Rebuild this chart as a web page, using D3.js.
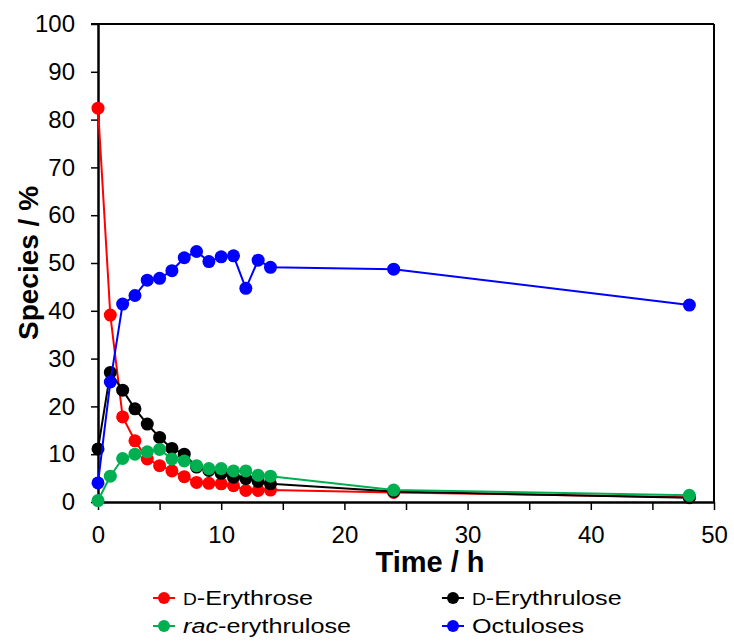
<!DOCTYPE html>
<html>
<head>
<meta charset="utf-8">
<script src="https://cdn.jsdelivr.net/npm/d3@7"></script>
<style>
  body { margin: 0; background: #fff; }
  svg { font-family: Arial, "Liberation Sans", sans-serif; }
</style>
</head>
<body>
<div id="chart"></div>
<script>
// data
var times = [0, 1, 2, 3, 4, 5, 6, 7, 8, 9, 10, 11, 12, 13, 14, 24, 48];
var erythrose   = [82.4, 39.1, 17.8, 12.8, 9.0, 7.6, 6.5, 5.3, 4.1, 3.9, 3.8, 3.4, 2.4, 2.4, 2.5, 2.0, 1.0];
var erythrulose = [11.1, 27.1, 23.4, 19.5, 16.3, 13.5, 11.2, 10.0, 7.3, 6.6, 6.0, 5.2, 4.9, 4.3, 3.8, 2.2, 0.9];
var racErythrulose = [0.3, 5.4, 9.1, 10.0, 10.5, 11.0, 9.0, 8.6, 7.6, 7.0, 7.0, 6.5, 6.5, 5.6, 5.4, 2.5, 1.4];
var octuloses   = [4.0, 25.1, 41.4, 43.2, 46.4, 46.8, 48.4, 51.1, 52.4, 50.3, 51.3, 51.5, 44.7, 50.6, 49.1, 48.7, 41.2];
var xTicks = [0, 5, 10, 15, 20, 25, 30, 35, 40, 45, 50];
var yTicks = [0, 10, 20, 30, 40, 50, 60, 70, 80, 90, 100];

var series = [
  {name: "erythrose", values: erythrose, color: "#ff0000"},
  {name: "erythrulose", values: erythrulose, color: "#000000"},
  {name: "octuloses", values: octuloses, color: "#0000ff"},
  {name: "rac", values: racErythrulose, color: "#00b050"}
];

var svgWidth = 734, svgHeight = 641;
var margin = {top: 24, right: 20, bottom: 139, left: 98};
var width = svgWidth - margin.left - margin.right;
var height = svgHeight - margin.top - margin.bottom;

var svg = d3.select("#chart").append("svg")
  .attr("width", svgWidth)
  .attr("height", svgHeight);

var chartGroup = svg.append("g")
  .attr("transform", `translate(${margin.left}, ${margin.top})`);

var x = d3.scaleLinear().domain([0, 50]).range([0, width]);
var y = d3.scaleLinear().domain([0, 100]).range([height, 0]);

// frame top + right
chartGroup.append("line")
  .attr("x1", -7).attr("x2", width).attr("y1", 0).attr("y2", 0)
  .attr("stroke", "#000").attr("stroke-width", 2);
chartGroup.append("line")
  .attr("x1", width).attr("x2", width).attr("y1", 0).attr("y2", height)
  .attr("stroke", "#000").attr("stroke-width", 2);

var xAxis = chartGroup.append("g")
  .attr("transform", `translate(0, ${height})`)
  .call(d3.axisBottom(x).tickValues(xTicks).tickSize(8).tickSizeOuter(0)
    .tickFormat(d => d % 10 === 0 ? d : ""));

var yAxis = chartGroup.append("g")
  .call(d3.axisLeft(y).tickValues(yTicks).tickSize(7).tickSizeOuter(0));

[xAxis, yAxis].forEach(function(ax) {
  ax.select(".domain").attr("stroke-width", 2.5);
  ax.selectAll(".tick line").attr("stroke-width", 1.5);
  ax.selectAll(".tick text").attr("font-size", 24).attr("fill", "#000")
    .attr("font-family", "Arial, 'Liberation Sans', sans-serif");
});
xAxis.selectAll(".tick text").attr("dy", "0.95em").attr("y", 18);
yAxis.selectAll(".tick text").attr("x", -23);

var line = d3.line()
  .x((d, i) => x(times[i]))
  .y(d => y(d));

series.forEach(function(s) {
  var g = chartGroup.append("g");
  g.append("path")
    .attr("d", line(s.values))
    .attr("fill", "none")
    .attr("stroke", s.color)
    .attr("stroke-width", 2);
  g.selectAll("circle")
    .data(s.values)
    .enter()
    .append("circle")
    .attr("cx", (d, i) => x(times[i]))
    .attr("cy", d => y(d))
    .attr("r", 6.5)
    .attr("fill", s.color);
});

// axis titles
svg.append("text")
  .attr("x", 430).attr("y", 572)
  .attr("text-anchor", "middle")
  .attr("font-size", 29).attr("font-weight", "bold")
  .text("Time / h");

svg.append("text")
  .attr("transform", "translate(38, 263) rotate(-90)")
  .attr("text-anchor", "middle")
  .attr("font-size", 28).attr("font-weight", "bold")
  .text("Species / %");

// legend
var legendItems = [
  {color: "#ff0000", x: 164, y: 598, parts: [["D", "small"], ["-Erythrose", ""]]},
  {color: "#000000", x: 453, y: 598, parts: [["D", "small"], ["-Erythrulose", ""]]},
  {color: "#00b050", x: 164, y: 626, parts: [["rac", "italic"], ["-erythrulose", ""]]},
  {color: "#0000ff", x: 453, y: 626, parts: [["Octuloses", ""]]}
];

legendItems.forEach(function(item) {
  var g = svg.append("g").attr("transform", `translate(${item.x}, ${item.y})`);
  g.append("line").attr("x1", -11).attr("x2", 11).attr("y1", 0).attr("y2", 0)
    .attr("stroke", item.color).attr("stroke-width", 2);
  g.append("circle").attr("r", 6).attr("fill", item.color);
  var t = g.append("text")
    .attr("transform", "translate(19, 7) scale(1.2, 1)")
    .attr("font-size", 21);
  item.parts.forEach(function(p) {
    var ts = t.append("tspan").text(p[0]);
    if (p[1] === "small") ts.attr("font-size", 16);
    if (p[1] === "italic") ts.attr("font-style", "italic");
  });
});
</script>
</body>
</html>
